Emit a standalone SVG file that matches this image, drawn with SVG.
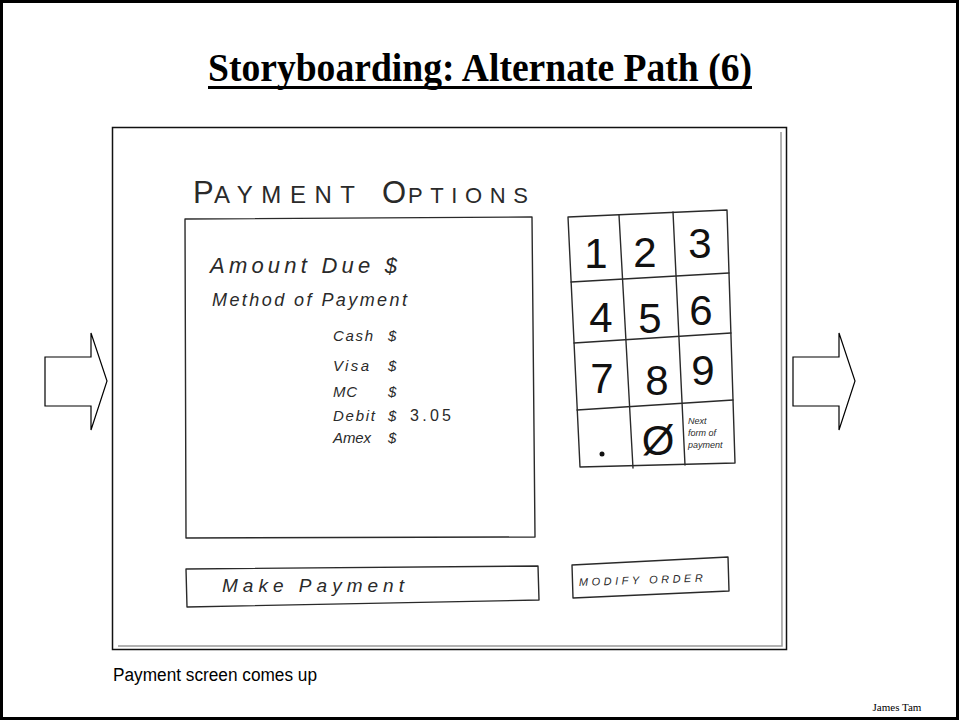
<svg xmlns="http://www.w3.org/2000/svg" width="959" height="720" viewBox="0 0 959 720">
  <style>
    .ink { fill: none; stroke: #2a2a2a; stroke-width: 1.4; stroke-linecap: round; stroke-linejoin: round; }
    .hand { font-family: "Liberation Sans", "DejaVu Sans", sans-serif; fill: #2a2a2a; }
    .script { font-family: "Liberation Sans", "DejaVu Sans", sans-serif; font-style: italic; fill: #2a2a2a; }
    .digit { font-family: "Liberation Sans", "DejaVu Sans", sans-serif; font-size: 42px; fill: #111; text-anchor: middle; }
    .arrow { fill: #fff; stroke: #000; stroke-width: 1.2; }
  </style>

  <!-- slide background and frame -->
  <rect x="0" y="0" width="959" height="720" fill="#fff"/>
  <rect x="1.5" y="1.5" width="956" height="717" fill="none" stroke="#000" stroke-width="3"/>

  <!-- title -->
  <g id="title">
    <text x="480" y="81" text-anchor="middle" font-family="Liberation Serif, Times New Roman, serif" font-weight="bold" font-size="41" textLength="544" lengthAdjust="spacingAndGlyphs" fill="#000">Storyboarding: Alternate Path (6)</text>
    <rect x="208" y="86" width="544" height="3" fill="#000"/>
  </g>

  <!-- scanned sketch frame -->
  <g id="sketch-frame">
    <rect x="112.5" y="127.5" width="674" height="522" fill="#fff" stroke="#111" stroke-width="1.5"/>
    <path d="M781 132 L782 646 L118 646" fill="none" stroke="#999" stroke-width="1.5"/>
  </g>

  <!-- screen heading -->
  <g id="heading">
    <text class="hand" x="193" y="203" font-size="31">P</text>
    <text class="hand" x="214" y="203" font-size="24" textLength="141" lengthAdjust="spacing">AYMENT</text>
    <text class="hand" x="382" y="203" font-size="31">O</text>
    <text class="hand" x="408" y="203" font-size="22" textLength="120" lengthAdjust="spacing">PTIONS</text>
  </g>

  <!-- payment details box -->
  <g id="details">
    <path class="ink" d="M185 219 L532 217 L535 537 L186 538 Z"/>
    <text class="script" x="210" y="273" font-size="22" textLength="187" lengthAdjust="spacing">Amount Due $</text>
    <text class="script" x="212" y="306" font-size="18" textLength="195" lengthAdjust="spacing">Method of Payment</text>
    <g font-size="15">
      <text class="script" x="333" y="341" textLength="40" lengthAdjust="spacing">Cash</text>
      <text class="script" x="388" y="341">$</text>
      <text class="script" x="333" y="371" textLength="36" lengthAdjust="spacing">Visa</text>
      <text class="script" x="388" y="371">$</text>
      <text class="script" x="333" y="397" textLength="24" lengthAdjust="spacing">MC</text>
      <text class="script" x="388" y="397">$</text>
      <text class="script" x="333" y="421" textLength="42" lengthAdjust="spacing">Debit</text>
      <text class="script" x="388" y="421">$</text>
      <text class="hand" x="410" y="421" font-size="16" textLength="41" lengthAdjust="spacing">3.05</text>
      <text class="script" x="333" y="443" textLength="38" lengthAdjust="spacing">Amex</text>
      <text class="script" x="388" y="443">$</text>
    </g>
  </g>

  <!-- keypad -->
  <g id="keypad">
    <path class="ink" d="M568 217 L727 210 L735 463 L580 467 Z"/>
    <path class="ink" d="M619 215 L633 468"/>
    <path class="ink" d="M673 212 L685 465"/>
    <path class="ink" d="M571 282 L729 273"/>
    <path class="ink" d="M574 343 L731 333"/>
    <path class="ink" d="M577 410 L733 400"/>
    <text class="digit" x="596" y="268">1</text>
    <text class="digit" x="645" y="267">2</text>
    <text class="digit" x="700" y="258">3</text>
    <text class="digit" x="601" y="332">4</text>
    <text class="digit" x="650" y="333">5</text>
    <text class="digit" x="701" y="325">6</text>
    <text class="digit" x="602" y="393">7</text>
    <text class="digit" x="657" y="395">8</text>
    <text class="digit" x="703" y="385">9</text>
    <circle cx="602" cy="454" r="2.5" fill="#111"/>
    <text class="digit" x="658" y="455">Ø</text>
    <g class="script" font-size="9">
      <text x="688" y="424">Next</text>
      <text x="688" y="436">form of</text>
      <text x="688" y="448">payment</text>
    </g>
  </g>

  <!-- action buttons -->
  <g id="make-payment">
    <path class="ink" d="M186 569 L538 566 L539 600 L187 607 Z"/>
    <text class="script" x="222" y="592" font-size="19" textLength="182" lengthAdjust="spacing">Make  Payment</text>
  </g>
  <g id="modify-order">
    <path class="ink" d="M572 565 L728 557 L729 591 L573 598 Z"/>
    <text class="script" x="579" y="586" font-size="11" textLength="124" lengthAdjust="spacing" transform="rotate(-2 579 586)">MODIFY  ORDER</text>
  </g>

  <!-- navigation arrows -->
  <g id="connectors">
    <path class="arrow" d="M45 357 L91 357 L91 333 L107 381 L91 430 L91 406 L45 406 Z"/>
    <path class="arrow" d="M793 357 L839 357 L839 333 L855 381 L839 430 L839 406 L793 406 Z"/>
  </g>

  <!-- caption and footer -->
  <g id="caption">
    <text x="113" y="681" font-family="Liberation Sans, Arial, sans-serif" font-size="18" textLength="204" lengthAdjust="spacingAndGlyphs" fill="#000">Payment screen comes up</text>
  </g>
  <g id="footer">
    <text x="897" y="711" text-anchor="middle" font-family="Liberation Serif, Times New Roman, serif" font-size="11" fill="#000">James Tam</text>
  </g>
</svg>
